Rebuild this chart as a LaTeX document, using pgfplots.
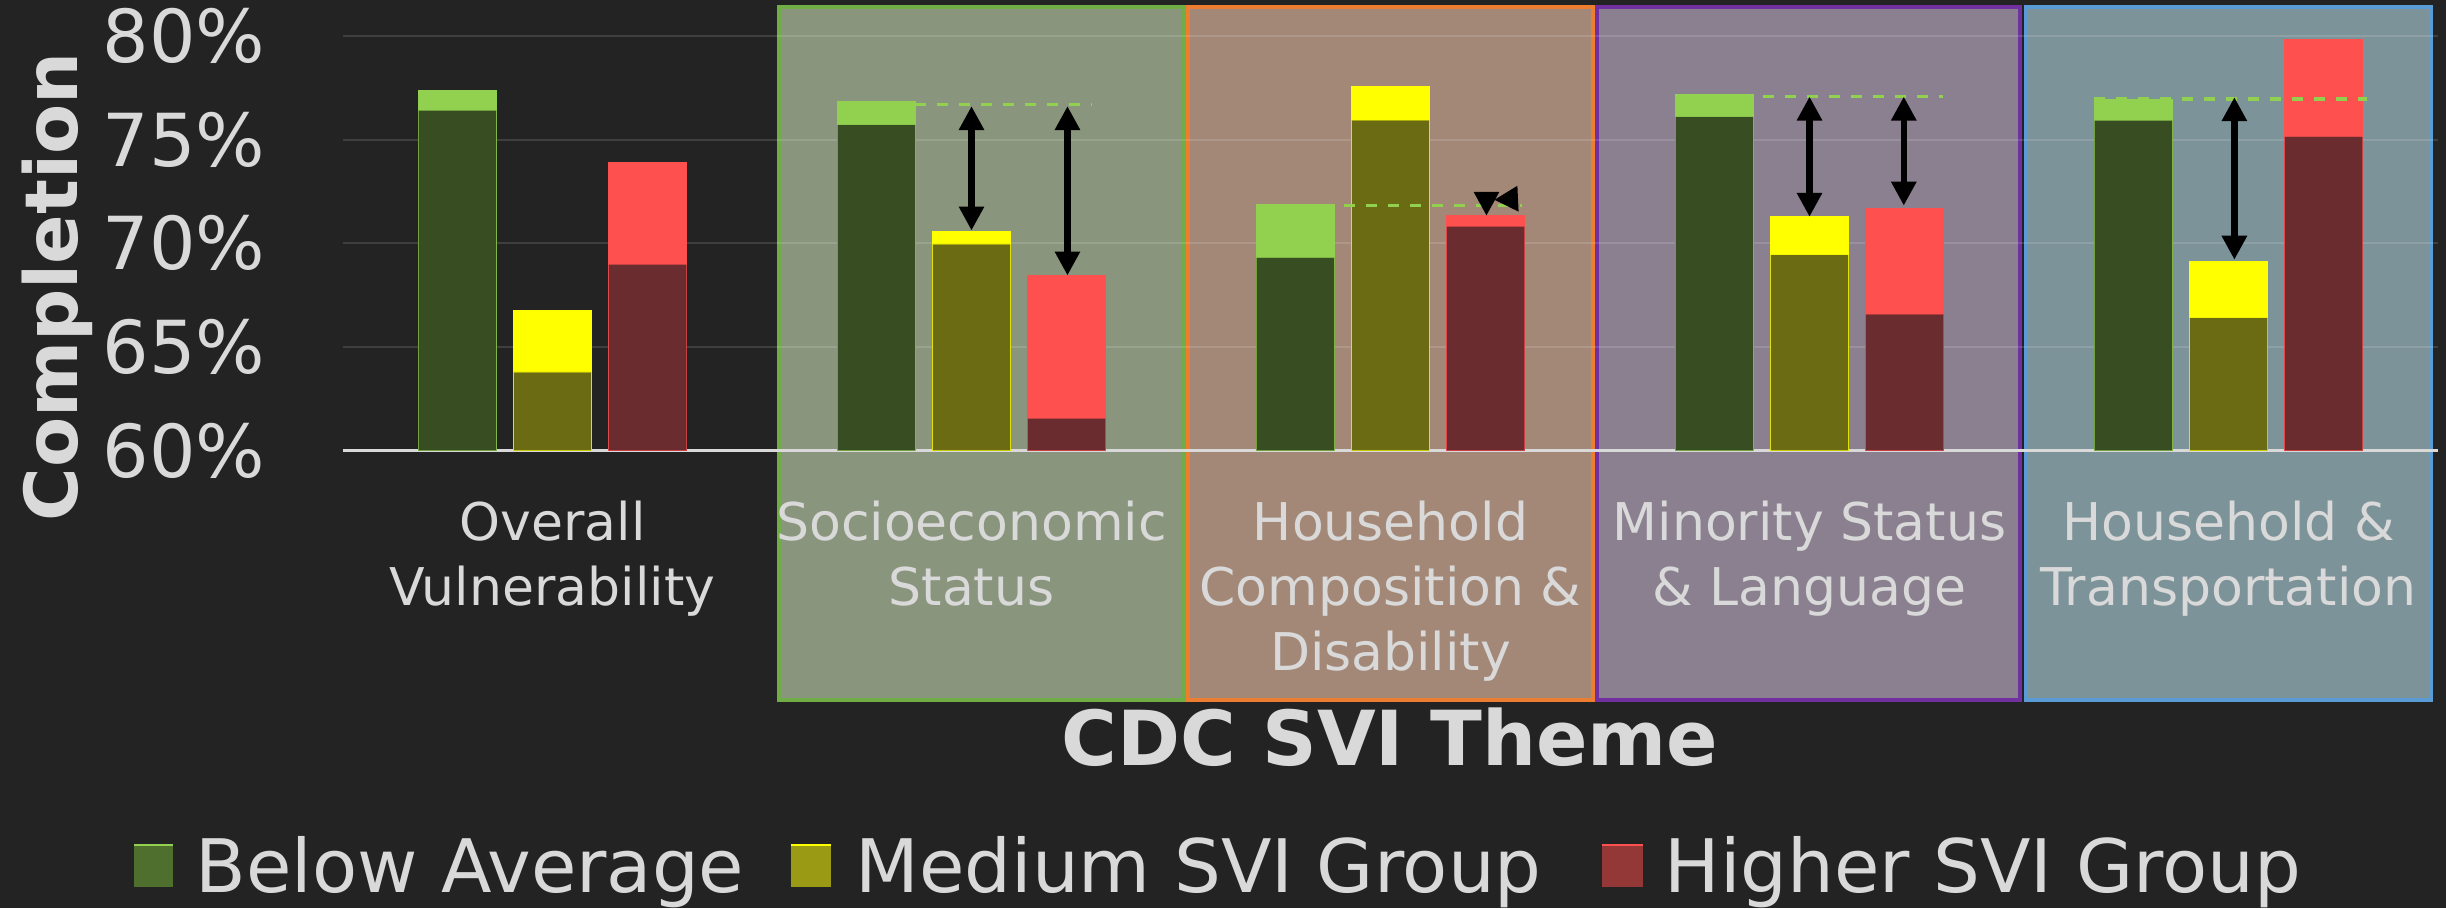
\documentclass[border=0pt]{standalone}
\usepackage{pgfplots}
\pgfplotsset{compat=1.18}
\usepackage{pgfplotstable}
\usepackage{fontspec}
\setmainfont{DejaVu Sans}
\usetikzlibrary{arrows.meta}

\definecolor{bg}{HTML}{232323}
\definecolor{txt}{HTML}{D9D9D9}
\definecolor{gLight}{HTML}{92D050}
\definecolor{gDark}{HTML}{384D22}
\definecolor{yLight}{HTML}{FFFF00}
\definecolor{yDark}{HTML}{6B6B14}
\definecolor{rLight}{HTML}{FF5050}
\definecolor{rDark}{HTML}{6B2C2F}
\definecolor{boxG}{HTML}{8A957D}\definecolor{lineG}{HTML}{70AD47}
\definecolor{boxO}{HTML}{A38877}\definecolor{lineO}{HTML}{ED7D31}
\definecolor{boxP}{HTML}{8A808F}\definecolor{lineP}{HTML}{7030A0}
\definecolor{boxB}{HTML}{7C9399}\definecolor{lineB}{HTML}{5B9BD5}
\definecolor{legG}{HTML}{4F6F2E}
\definecolor{legY}{HTML}{9A9A14}
\definecolor{legR}{HTML}{943737}

% columns: dark = lower (darker) part of the bar, top = full bar height
\pgfplotstableread{
x dark top
0 76.41 77.38
1 75.72 76.83
2 69.31 71.85
3 76.10 77.15
4 75.93 76.92
}\below
\pgfplotstableread{
x dark top
0 63.80 66.76
1 69.97 70.58
2 75.94 77.54
3 69.45 71.26
4 66.41 69.10
}\medium
\pgfplotstableread{
x dark top
0 68.99 73.88
1 61.56 68.45
2 70.82 71.35
3 66.59 71.68
4 75.15 79.82
}\higher

\tikzset{
  gap/.style={line width=0.65mm, black,
    {Triangle[width=2.4mm,length=2.4mm]}-{Triangle[width=2.4mm,length=2.4mm]}},
  ref/.style={gLight, line width=0.32mm, dash pattern=on 1.1mm off 1.1mm},
  themebox/.style={line width=0.4mm},
}

\begin{document}
\begin{tikzpicture}
\useasboundingbox (0,0) rectangle (244.6mm,90.8mm);
\fill[bg] (0,0) rectangle (244.6mm,90.8mm);

% shaded theme panels behind the plot
\filldraw[themebox, fill=boxG, draw=lineG] (77.9mm,20.8mm) rectangle (118.4mm,90.1mm);
\filldraw[themebox, fill=boxO, draw=lineO] (118.8mm,20.8mm) rectangle (159.3mm,90.1mm);
\filldraw[themebox, fill=boxP, draw=lineP] (159.7mm,20.8mm) rectangle (202.0mm,90.1mm);
\filldraw[themebox, fill=boxB, draw=lineB] (202.6mm,20.8mm) rectangle (243.1mm,90.1mm);

\begin{axis}[
  scale only axis,
  width=209.5mm, height=41.47mm,
  at={(34.3mm,45.73mm)}, anchor=south west,
  xmin=-0.5, xmax=4.5, ymin=60, ymax=80,
  xtick={0,...,4},
  xticklabels={{Overall\\Vulnerability},{Socioeconomic\\Status},{Household\\Composition \&\\Disability},{Minority Status\\\& Language},{Household \&\\Transportation}},
  ytick={60,65,...,80},
  yticklabel={\pgfmathprintnumber{\tick}\%},
  /pgf/number format/assume math mode=true,
  tick style={draw=none},
  axis x line*=bottom, axis y line*=left,
  x axis line style={-, draw=txt, line width=0.3mm},
  y axis line style={draw=none},
  ymajorgrids,
  grid style={white, opacity=0.13, line width=0.2mm},
  xticklabel style={font=\fontsize{14.8}{18.5}\selectfont, text=txt, align=center,
    anchor=north, inner sep=0pt, yshift=-4.98mm},
  yticklabel style={font=\fontsize{20.8}{24}\selectfont, text=txt, anchor=east,
    inner sep=0pt, xshift=-7.7mm},
]
\addplot[ybar, bar width=0.186, bar shift=-0.227, fill=gLight, draw=gLight, line width=0.15mm] table[x=x,y=top]{\below};
\addplot[ybar, bar width=0.186, bar shift=-0.227, fill=gDark, draw=gLight, draw opacity=0.45, line width=0.12mm] table[x=x,y=dark]{\below};
\addplot[ybar, bar width=0.186, bar shift=0, fill=yLight, draw=yLight, line width=0.15mm] table[x=x,y=top]{\medium};
\addplot[ybar, bar width=0.186, bar shift=0, fill=yDark, draw=yLight, draw opacity=0.45, line width=0.12mm] table[x=x,y=dark]{\medium};
\addplot[ybar, bar width=0.186, bar shift=0.227, fill=rLight, draw=rLight, line width=0.15mm] table[x=x,y=top]{\higher};
\addplot[ybar, bar width=0.186, bar shift=0.227, fill=rDark, draw=rLight, draw opacity=0.45, line width=0.12mm] table[x=x,y=dark]{\higher};

% reference lines and gaps to the below-average group
\draw[ref] (axis cs:0.866,76.68) -- (axis cs:1.288,76.68);
\draw[gap] (axis cs:1.0,76.62) -- (axis cs:1.0,70.62);
\draw[gap] (axis cs:1.229,76.62) -- (axis cs:1.229,68.45);

\draw[ref] (axis cs:1.68,71.84) -- (axis cs:2.314,71.84);
\draw[line width=0.65mm, black, -{Triangle[width=2.4mm,length=2.4mm]}] (axis cs:2.229,71.95) -- (axis cs:2.229,71.33);
\draw[line width=0.65mm, black, -{Triangle[width=2.4mm,length=2.4mm]}] (axis cs:2.30,72.15) -- (axis cs:2.247,72.1);

\draw[ref] (axis cs:2.68,77.10) -- (axis cs:3.318,77.10);
\draw[gap] (axis cs:3.0,77.08) -- (axis cs:3.0,71.28);
\draw[gap] (axis cs:3.225,77.08) -- (axis cs:3.225,71.82);

\draw[ref] (axis cs:3.68,76.96) -- (axis cs:4.33,76.96);
\draw[gap] (axis cs:4.014,77.05) -- (axis cs:4.014,69.21);
\end{axis}

% axis titles
\node[rotate=90, anchor=base, inner sep=0pt, text=txt, font=\fontsize{20.8}{24}\selectfont\bfseries] at (7.7mm,62.1mm) {Completion};
\node[anchor=base, inner sep=0pt, text=txt, font=\fontsize{21.6}{26}\selectfont\bfseries] at (139.0mm,14.3mm) {CDC SVI Theme};

% legend
\begin{scope}[every node/.style={anchor=base west, inner sep=0pt, text=txt, font=\fontsize{21}{25}\selectfont}]
\fill[legG] (13.4mm,2.1mm) rectangle (17.3mm,6.3mm);
\draw[gLight, line width=0.2mm] (13.4mm,6.3mm) -- (17.3mm,6.3mm);
\node at (19.5mm,1.6mm) {Below Average};
\fill[legY] (79.1mm,2.1mm) rectangle (83.1mm,6.3mm);
\draw[yLight, line width=0.2mm] (79.1mm,6.3mm) -- (83.1mm,6.3mm);
\node at (85.5mm,1.6mm) {Medium SVI Group};
\fill[legR] (160.2mm,2.1mm) rectangle (164.3mm,6.3mm);
\draw[rLight, line width=0.2mm] (160.2mm,6.3mm) -- (164.3mm,6.3mm);
\node at (166.4mm,1.6mm) {Higher SVI Group};
\end{scope}
\end{tikzpicture}
\end{document}
